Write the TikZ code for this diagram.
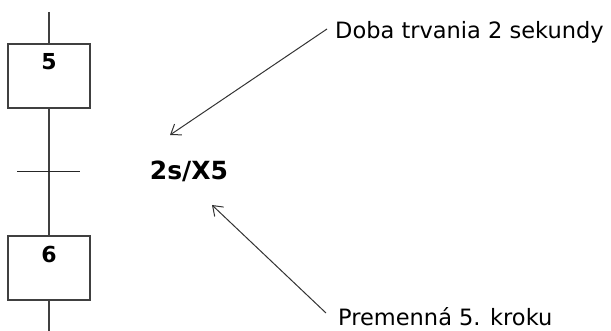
\documentclass[tikz,border=0pt]{standalone}
\usepackage{fontspec}
\setmainfont{DejaVu Sans}
\usetikzlibrary{arrows,arrows.meta,positioning,calc}

\begin{document}
\begin{tikzpicture}[
    x=1pt, y=-1pt,
    step box/.style={rectangle, draw=black!75, line width=1.3pt, minimum width=82pt, minimum height=64pt},
    num/.style={font=\fontsize{22}{24}\selectfont\bfseries},
    note/.style={font=\fontsize{22.5}{25}\selectfont, anchor=west, inner sep=0pt},
    link/.style={draw=black!75, line width=1.3pt},
    arrow/.style={-{Straight Barb[length=9pt,width=13pt]}, draw=black!80, line width=1pt}
]
    \useasboundingbox (0,0) rectangle (611,331);

    % Steps
    \node[step box] (s5) at (49,76) {};
    \node[num] (n5) at ($(s5.north)+(0,18)$) {5};
    \node[step box] (s6) at (49,268) {};
    \node[num] (n6) at ($(s6.north)+(0,19)$) {6};

    % Links
    \coordinate (top) at (49,12);
    \coordinate (bottom) at (49,331);
    \coordinate (tl) at (17,172);
    \coordinate (tr) at (80,172);
    \draw[link] (top) -- (s5.north);
    \draw[link] (s5.south) -- (s6.north);
    \draw[link] (s6.south) -- (bottom);

    % Transition
    \draw[draw=black!85, line width=1pt] (tl) -- (tr);
    \node[font=\fontsize{25}{27}\selectfont\bfseries] (cond) at (189,171) {2s/X5};

    % Notes
    \node[note] (doba) at (335,32) {Doba trvania 2 sekundy};
    \node[note] (prem) at (338,317) {Premenná 5. kroku};
    \coordinate (a1) at (170,135);
    \coordinate (a2) at (212,205);
    \draw[arrow] ($(doba.west)+(-8,-3)$) -- (a1);
    \draw[arrow] ($(prem.west)+(-12,-4)$) -- (a2);
\end{tikzpicture}
\end{document}
